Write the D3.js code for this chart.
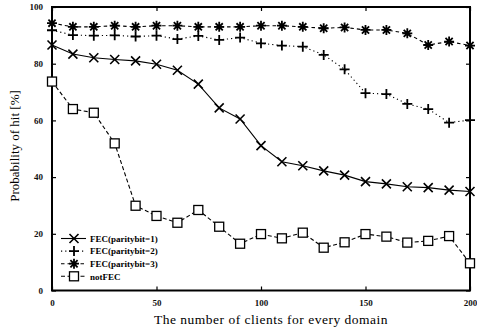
<!DOCTYPE html>
<html>
<head>
<meta charset="utf-8">
<script src="https://cdn.jsdelivr.net/npm/d3@7"></script>
<style>
  body { margin: 0; background: #fff; }
  text { font-family: "Liberation Serif", "DejaVu Serif", serif; }
</style>
</head>
<body>
<div id="chart"></div>
<script>
// number of clients per domain
var clients = [0, 10, 20, 30, 40, 50, 60, 70, 80, 90, 100, 110, 120, 130, 140, 150, 160, 170, 180, 190, 200];

// probability of hit [%]
var fec1 = [86.6, 83.4, 82.1, 81.5, 81.0, 79.8, 77.7, 72.8, 64.4, 60.5, 51.1, 45.4, 44.0, 42.2, 40.7, 38.4, 37.6, 36.6, 36.3, 35.4, 34.9];
var fec2 = [91.8, 90.1, 89.9, 90.0, 89.6, 89.9, 88.7, 89.8, 88.4, 89.2, 87.2, 86.4, 86.0, 83.1, 78.0, 69.6, 69.3, 65.8, 64.0, 59.2, 60.1];
var fec3 = [94.3, 93.0, 93.0, 93.4, 93.0, 93.4, 93.4, 93.0, 93.0, 93.0, 93.4, 93.4, 93.0, 92.5, 92.8, 91.9, 91.9, 90.7, 86.6, 87.8, 86.4];
var notFec = [73.7, 64.0, 62.7, 51.9, 29.9, 26.3, 23.9, 28.4, 22.5, 16.5, 19.9, 18.4, 20.4, 15.1, 17.0, 19.9, 19.0, 16.9, 17.5, 19.2, 9.6];

var seriesNames = ["FEC(paritybit=1)", "FEC(paritybit=2)", "FEC(paritybit=3)", "notFEC"];
var xTicks = [0, 50, 100, 150, 200];
var yTicks = [0, 20, 40, 60, 80, 100];

var series = [
  { name: seriesNames[0], values: fec1, dash: null, marker: "x" },
  { name: seriesNames[1], values: fec2, dash: "1.2,3", marker: "plus" },
  { name: seriesNames[2], values: fec3, dash: "3.5,3", marker: "star" },
  { name: seriesNames[3], values: notFec, dash: "4,2.5", marker: "square" }
];

var W = 477, H = 333;
var mLeft = 52, mRight = 470, mTop = 7, mBottom = 290.5;

var svg = d3.select("#chart").append("svg")
    .attr("width", W).attr("height", H);

var x = d3.scaleLinear().domain([0, 200]).range([mLeft, mRight]);
var y = d3.scaleLinear().domain([0, 100]).range([mBottom, mTop]);

// inward ticks on all four sides
svg.append("g").attr("transform", "translate(0," + mBottom + ")")
  .call(d3.axisBottom(x).tickValues(xTicks).tickSize(-4).tickPadding(9).tickFormat(d3.format("d")))
  .call(g => g.select(".domain").remove());
svg.append("g").attr("transform", "translate(0," + mTop + ")")
  .call(d3.axisTop(x).tickValues(xTicks).tickSize(-4).tickFormat(""))
  .call(g => g.select(".domain").remove());
svg.append("g").attr("transform", "translate(" + mLeft + ",0)")
  .call(d3.axisLeft(y).tickValues(yTicks).tickSize(-4).tickPadding(9).tickFormat(d3.format("d")))
  .call(g => g.select(".domain").remove());
svg.append("g").attr("transform", "translate(" + mRight + ",0)")
  .call(d3.axisRight(y).tickValues(yTicks).tickSize(-4).tickFormat(""))
  .call(g => g.select(".domain").remove());

svg.selectAll(".tick line").attr("stroke", "#000").attr("stroke-width", 1.2);
svg.selectAll(".tick text")
    .style("font-size", "9px").style("font-weight", "bold").attr("fill", "#111");

// frame
svg.append("rect")
    .attr("x", mLeft).attr("y", mTop)
    .attr("width", mRight - mLeft).attr("height", mBottom - mTop)
    .attr("fill", "none").attr("stroke", "#000").attr("stroke-width", 2);

function drawMarker(g, type, cx, cy) {
  if (type === "x") {
    var s = 4.5;
    g.append("path").attr("d", "M" + (cx - s) + "," + (cy - s) + "L" + (cx + s) + "," + (cy + s) +
        "M" + (cx - s) + "," + (cy + s) + "L" + (cx + s) + "," + (cy - s))
      .attr("stroke", "#000").attr("stroke-width", 1.6).attr("fill", "none");
  } else if (type === "plus") {
    var p = 5;
    g.append("path").attr("d", "M" + (cx - p) + "," + cy + "L" + (cx + p) + "," + cy +
        "M" + cx + "," + (cy - p) + "L" + cx + "," + (cy + p))
      .attr("stroke", "#000").attr("stroke-width", 1.8).attr("fill", "none");
  } else if (type === "star") {
    var a = 5, b = 3.6;
    g.append("path").attr("d", "M" + (cx - a) + "," + cy + "L" + (cx + a) + "," + cy +
        "M" + cx + "," + (cy - a) + "L" + cx + "," + (cy + a) +
        "M" + (cx - b) + "," + (cy - b) + "L" + (cx + b) + "," + (cy + b) +
        "M" + (cx - b) + "," + (cy + b) + "L" + (cx + b) + "," + (cy - b))
      .attr("stroke", "#000").attr("stroke-width", 1.8).attr("fill", "none");
  } else {
    var q = 4.5;
    g.append("rect").attr("x", cx - q).attr("y", cy - q)
      .attr("width", 2 * q).attr("height", 2 * q)
      .attr("fill", "#fff").attr("stroke", "#000").attr("stroke-width", 1.3);
  }
}

var line = d3.line().x((d, i) => x(clients[i])).y(d => y(d));

series.forEach(function (s) {
  var g = svg.append("g");
  g.append("path").datum(s.values)
    .attr("d", line)
    .attr("fill", "none").attr("stroke", "#000").attr("stroke-width", 1.1)
    .attr("stroke-dasharray", s.dash);
  s.values.forEach(function (v, i) { drawMarker(g, s.marker, x(clients[i]), y(v)); });
});

// legend
var lg = svg.append("g");
series.forEach(function (s, i) {
  var ly = 238.5 + i * 12.6;
  lg.append("line").attr("x1", 61).attr("x2", 86).attr("y1", ly).attr("y2", ly)
    .attr("stroke", "#000").attr("stroke-width", 1.1).attr("stroke-dasharray", s.dash);
  drawMarker(lg, s.marker, 74, ly);
  lg.append("text").attr("x", 90).attr("y", ly + 3.2)
    .style("font-size", "9px").style("font-weight", "bold").text(s.name);
});

// axis titles
svg.append("text").attr("x", 271).attr("y", 324).attr("text-anchor", "middle")
  .style("font-size", "13.5px").style("letter-spacing", "0.5px")
  .text("The number of clients for every domain");
svg.append("text").attr("transform", "translate(19,146) rotate(-90)").attr("text-anchor", "middle")
  .style("font-size", "13px").text("Probability of hit [%]");
</script>
</body>
</html>
